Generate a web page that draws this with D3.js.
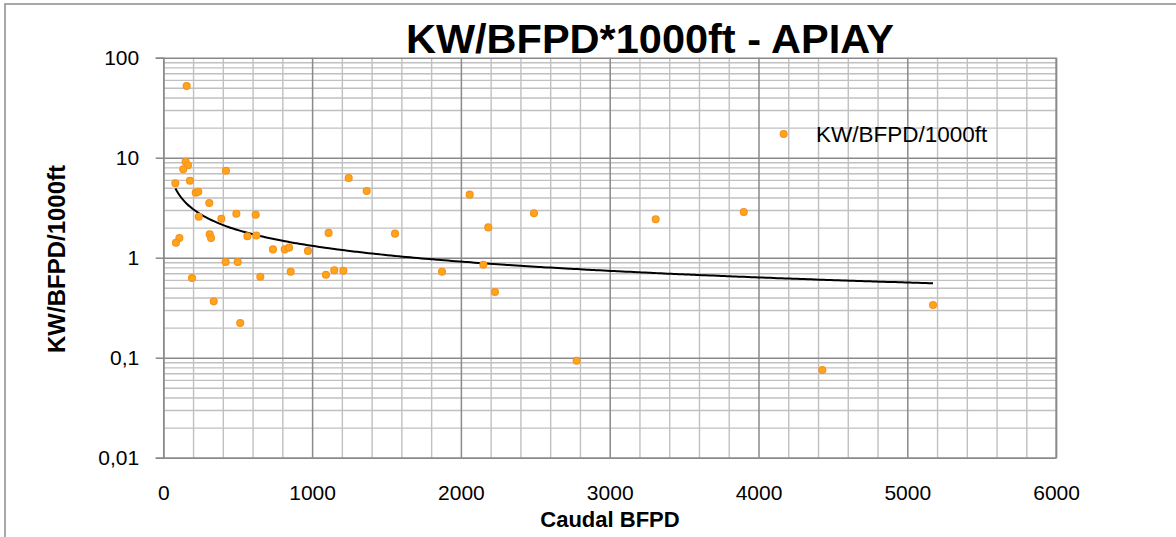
<!DOCTYPE html>
<html>
<head>
<meta charset="utf-8">
<script src="https://cdn.jsdelivr.net/npm/d3@7"></script>
<style>
  body { margin: 0; background: #fff; }
  svg { display: block; font-family: "Liberation Sans", Arial, sans-serif; }
</style>
</head>
<body>
<svg id="chart" width="1176" height="537"></svg>
<script>
// caudal (BFPD) for each well
const bfpd = [157, 150, 166, 134, 421, 81, 179, 218, 235, 309,
  238, 390, 491, 621, 312, 321, 108, 85, 565, 625,
  737, 816, 845, 972, 1111, 1246, 1367, 1557, 2059, 2184,
  2151, 2229, 1873, 419, 500, 193, 339, 517, 652, 856,
  1093, 1149, 1210, 2491, 3309, 3901, 2778, 4429, 5173];
// KW/BFPD/1000ft for each well
const kwRatio = [52.1, 9.12, 8.39, 7.66, 7.41, 5.55, 5.89, 4.47, 4.57, 3.52,
  2.57, 2.45, 2.75, 2.69, 1.71, 1.57, 1.57, 1.41, 1.64, 1.67,
  1.21, 1.21, 1.26, 1.17, 1.77, 6.27, 4.65, 1.74, 4.27, 2.01,
  0.851, 0.454, 0.724, 0.906, 0.906, 0.627, 0.366, 0.222, 0.646, 0.724,
  0.676, 0.748, 0.741, 2.78, 2.42, 2.86, 0.0933, 0.0753, 0.336];

const xTicks = [0, 1000, 2000, 3000, 4000, 5000, 6000];
const yTicks = [0.01, 0.1, 1, 10, 100];
const yTickLabels = ['0,01', '0,1', '1', '10', '100'];
const seriesName = 'KW/BFPD/1000ft';

const points = bfpd.map((d, i) => ({ x: d, y: kwRatio[i] }));

const svg = d3.select('#chart');
const plotL = 163.3, plotR = 1056.1, plotT = 57.7, plotB = 457.7;

const x = d3.scaleLinear().domain([0, 6000]).range([plotL, plotR]);
const y = d3.scaleLog().domain([0.01, 100]).range([plotB, plotT]);

// outer chart frame
svg.append('rect')
  .attr('x', 5).attr('y', 4)
  .attr('width', 1300).attr('height', 700)
  .attr('fill', '#fff')
  .attr('stroke', '#8c8c8c')
  .attr('stroke-width', 1.5);

// minor grid
const xMinor = d3.range(0, 6001, 200).filter(d => d % 1000 !== 0);
const yMinor = y.ticks().filter(d => !yTicks.includes(d));

svg.append('g')
  .attr('transform', `translate(0,${plotB})`)
  .call(d3.axisBottom(x).tickValues(xMinor).tickSize(-(plotB - plotT)).tickFormat(''))
  .call(g => g.select('.domain').remove())
  .selectAll('line').attr('stroke', '#c0c0c0').attr('stroke-width', 1.4);

svg.append('g')
  .attr('transform', `translate(${plotL},0)`)
  .call(d3.axisLeft(y).tickValues(yMinor).tickSize(-(plotR - plotL)).tickFormat(''))
  .call(g => g.select('.domain').remove())
  .selectAll('line').attr('stroke', '#c0c0c0').attr('stroke-width', 1.4);

// major grid
svg.append('g')
  .attr('transform', `translate(0,${plotB})`)
  .call(d3.axisBottom(x).tickValues(xTicks).tickSize(-(plotB - plotT)).tickFormat(''))
  .call(g => g.select('.domain').remove())
  .selectAll('line').attr('stroke', '#8a8a8a').attr('stroke-width', 1.5);

svg.append('g')
  .attr('transform', `translate(${plotL},0)`)
  .call(d3.axisLeft(y).tickValues(yTicks).tickSize(-(plotR - plotL)).tickFormat(''))
  .call(g => g.select('.domain').remove())
  .selectAll('line').attr('stroke', '#8a8a8a').attr('stroke-width', 1.5);

// axes with labels
const yAxis = svg.append('g')
  .attr('transform', `translate(${plotL},0)`)
  .call(d3.axisLeft(y).tickValues(yTicks).tickFormat((d, i) => yTickLabels[i])
    .tickSize(7.6).tickPadding(16.5));
yAxis.select('.domain').attr('stroke', '#8a8a8a').attr('stroke-width', 1.5);
yAxis.selectAll('line').attr('stroke', '#8a8a8a').attr('stroke-width', 1.5);
yAxis.selectAll('text').attr('font-size', 21).attr('fill', '#000')
  .attr('font-family', '"Liberation Sans", Arial, sans-serif');

const xAxis = svg.append('g')
  .attr('transform', `translate(0,${plotB})`)
  .call(d3.axisBottom(x).tickValues(xTicks).tickFormat(d3.format('d'))
    .tickSize(0).tickPadding(27));
xAxis.select('.domain').attr('stroke', '#8a8a8a').attr('stroke-width', 1.5);
xAxis.selectAll('text').attr('font-size', 21).attr('fill', '#000')
  .attr('font-family', '"Liberation Sans", Arial, sans-serif');

// right border of plot area
svg.append('line')
  .attr('x1', plotR).attr('x2', plotR)
  .attr('y1', plotT).attr('y2', plotB)
  .attr('stroke', '#8a8a8a').attr('stroke-width', 1.5);

// power trendline fitted on log-log
const lx = points.map(d => Math.log(d.x));
const ly = points.map(d => Math.log(d.y));
const mx = d3.mean(lx), my = d3.mean(ly);
const b = d3.sum(lx, (v, i) => (v - mx) * (ly[i] - my)) / d3.sum(lx, v => (v - mx) ** 2);
const a = Math.exp(my - b * mx);
const [xmin, xmax] = d3.extent(bfpd);
const trend = d3.range(0, 201).map(i => {
  const xv = xmin + (xmax - xmin) * i / 200;
  return { x: xv, y: a * Math.pow(xv, b) };
});

svg.append('path')
  .datum(trend)
  .attr('fill', 'none')
  .attr('stroke', '#000')
  .attr('stroke-width', 2)
  .attr('d', d3.line().x(d => x(d.x)).y(d => y(d.y)).curve(d3.curveMonotoneX));

// points
svg.append('g')
  .selectAll('circle')
  .data(points)
  .join('circle')
  .attr('cx', d => x(d.x))
  .attr('cy', d => y(d.y))
  .attr('r', 3.4)
  .attr('fill', '#ffa51c')
  .attr('stroke', '#f7941d')
  .attr('stroke-width', 1.3);

// legend
svg.append('circle')
  .attr('cx', 783.7).attr('cy', 134).attr('r', 3.4)
  .attr('fill', '#ffa51c').attr('stroke', '#f7941d').attr('stroke-width', 1.3);
svg.append('text')
  .attr('x', 816).attr('y', 142)
  .attr('font-size', 22.5)
  .text(seriesName);

// titles
svg.append('text')
  .attr('x', 650).attr('y', 53)
  .attr('text-anchor', 'middle')
  .attr('font-size', 41.5)
  .attr('font-weight', 'bold')
  .text('KW/BFPD*1000ft - APIAY');

svg.append('text')
  .attr('x', 610).attr('y', 527)
  .attr('text-anchor', 'middle')
  .attr('font-size', 22)
  .attr('font-weight', 'bold')
  .text('Caudal BFPD');

svg.append('text')
  .attr('transform', 'translate(65,259) rotate(-90)')
  .attr('text-anchor', 'middle')
  .attr('font-size', 24)
  .attr('font-weight', 'bold')
  .text('KW/BFPD/1000ft');
</script>
</body>
</html>
